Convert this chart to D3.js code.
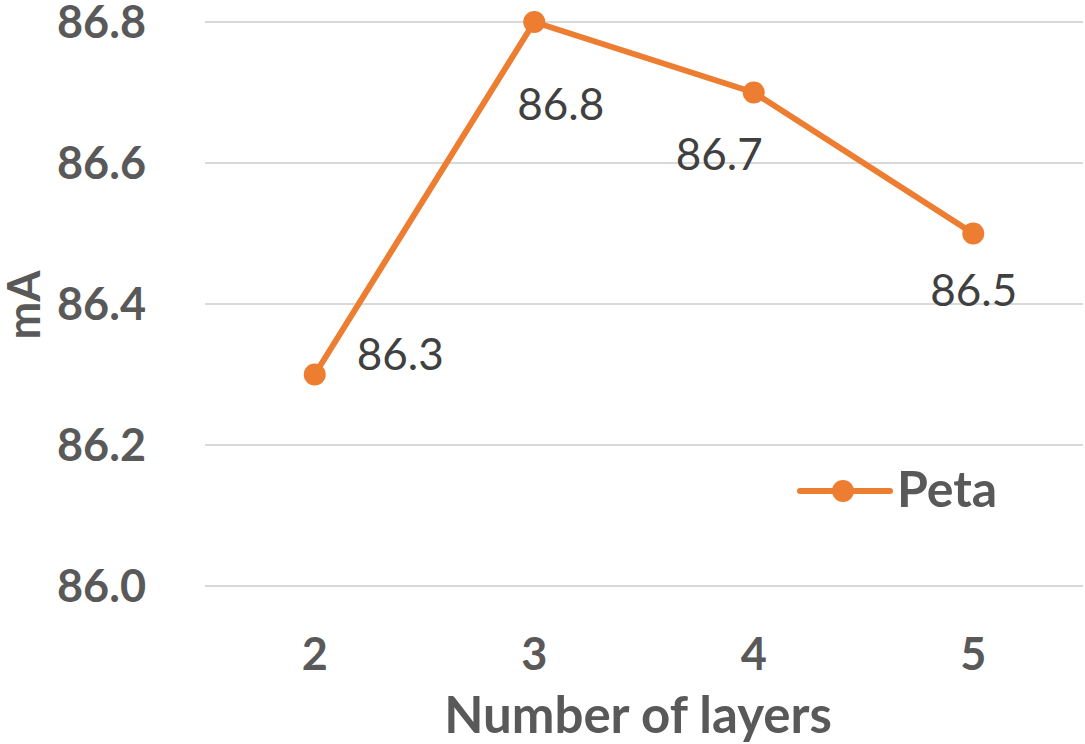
<!DOCTYPE html>
<html><head><meta charset="utf-8">
<script src="https://cdn.jsdelivr.net/npm/d3@7"></script>
<style>body{margin:0;background:#fff}svg{display:block}</style>
</head><body>
<script>
const categories = ["2","3","4","5"];
const values = [86.3, 86.8, 86.7, 86.5];
const yTicks = [86.0, 86.2, 86.4, 86.6, 86.8];
const seriesName = "Peta";
const labelPos = ["right","belowRight","belowLeft","below"];

const W = 1085, H = 744;
const svg = d3.select("body").append("svg").attr("width", W).attr("height", H);
const font = "Lato, 'Open Sans', sans-serif";
const x = d3.scaleBand().domain(categories).range([205, 1083]);
const y = d3.scaleLinear().domain([86.0, 86.8]).range([586, 22]);
const orange = "#ED7D31";
const offsets = {
  right: [42, -5],
  belowRight: [-17, 98],
  belowLeft: [-78, 77],
  below: [-43, 72]
};

// gridlines
svg.append("g").selectAll("line").data(yTicks).join("line")
  .attr("x1", 205).attr("x2", 1083)
  .attr("y1", d => y(d)).attr("y2", d => y(d))
  .attr("stroke", "#d9d9d9").attr("stroke-width", 2);

// y ticks
svg.append("g").selectAll("text").data(yTicks).join("text")
  .attr("x", 146).attr("y", d => y(d)).attr("dy", "0.36em")
  .attr("text-anchor", "end").attr("font-family", font).attr("font-weight", "bold")
  .attr("font-size", 45).attr("fill", "#595959").text(d => d.toFixed(1));

// x ticks
svg.append("g").selectAll("text").data(categories).join("text")
  .attr("x", d => x(d) + x.bandwidth()/2).attr("y", 670)
  .attr("text-anchor", "middle").attr("font-family", font).attr("font-weight", "bold")
  .attr("font-size", 45).attr("fill", "#595959").text(d => d);

// axis titles
svg.append("text").attr("x", 638).attr("y", 733).attr("text-anchor", "middle")
  .attr("font-family", font).attr("font-weight", "bold").attr("font-size", 51)
  .attr("fill", "#595959").text("Number of layers");
svg.append("text").attr("transform", "translate(40,305) rotate(-90)").attr("text-anchor", "middle")
  .attr("font-family", font).attr("font-weight", "bold").attr("font-size", 45)
  .attr("fill", "#595959").text("mA");

const pts = categories.map((c, i) => ({c, v: values[i], p: labelPos[i]}));
const line = d3.line().x(d => x(d.c) + x.bandwidth()/2).y(d => y(d.v));
svg.append("path").datum(pts).attr("d", line).attr("fill", "none")
  .attr("stroke", orange).attr("stroke-width", 6).attr("stroke-linejoin", "round").attr("stroke-linecap", "round");
svg.append("g").selectAll("circle").data(pts).join("circle")
  .attr("cx", d => x(d.c) + x.bandwidth()/2).attr("cy", d => y(d.v)).attr("r", 11).attr("fill", orange);

// data labels
svg.append("g").selectAll("text").data(pts).join("text")
  .attr("x", d => x(d.c) + x.bandwidth()/2 + offsets[d.p][0])
  .attr("y", d => y(d.v) + offsets[d.p][1])
  .attr("font-family", font).attr("font-size", 44).attr("fill", "#404040")
  .text(d => d.v.toFixed(1));

// legend
const lg = svg.append("g");
lg.append("line").attr("x1", 800).attr("x2", 890).attr("y1", 491).attr("y2", 491)
  .attr("stroke", orange).attr("stroke-width", 6).attr("stroke-linecap", "round");
lg.append("circle").attr("cx", 843).attr("cy", 491).attr("r", 11).attr("fill", orange);
lg.append("text").attr("x", 897).attr("y", 507).attr("font-family", font).attr("font-weight", "bold")
  .attr("font-size", 50).attr("fill", "#595959").text(seriesName);
</script>
</body></html>
